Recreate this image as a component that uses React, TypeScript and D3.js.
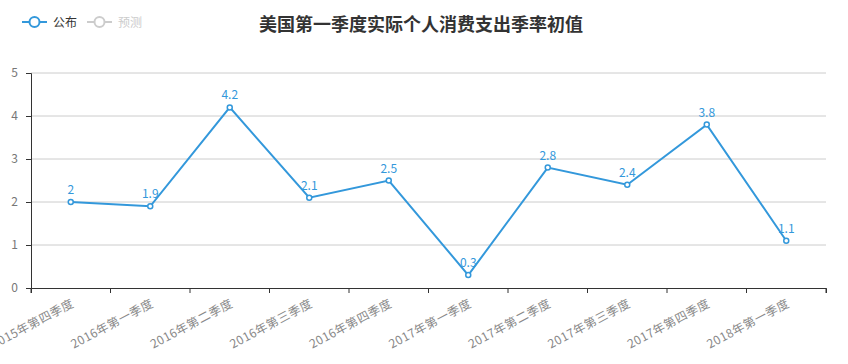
import * as d3 from 'd3'
import { useEffect, useRef } from 'react'

const categories = [
    '2015年第四季度', '2016年第一季度', '2016年第二季度', '2016年第三季度', '2016年第四季度',
    '2017年第一季度', '2017年第二季度', '2017年第三季度', '2017年第四季度', '2018年第一季度',
]
const published = [2, 1.9, 4.2, 2.1, 2.5, 0.3, 2.8, 2.4, 3.8, 1.1]
const yTicks = [0, 1, 2, 3, 4, 5]
const legendItems = [
    { name: '公布', active: true },
    { name: '预测', active: false },
]
const title = '美国第一季度实际个人消费支出季率初值'

export default function App() {
    const svgRef = useRef<SVGSVGElement>(null)

    useEffect(() => {
        makeChart(svgRef)
    }, [])

    function makeChart(svgRef: React.RefObject<SVGSVGElement>) {
        const width = 848
        const height = 364
        const font = "'Microsoft YaHei', 'Noto Sans CJK SC', sans-serif"
        const blue = '#3398DB'

        const svg = d3.select(svgRef.current).attr('width', width).attr('height', height)
        svg.selectAll('*').remove()

        const x = d3.scaleBand().domain(categories).range([31, 826])
        const y = d3.scaleLinear().domain([0, 5]).range([288, 73])

        // grid
        svg.append('g')
            .selectAll('line')
            .data(yTicks.slice(1))
            .enter()
            .append('line')
            .attr('x1', 31).attr('x2', 826)
            .attr('y1', d => y(d)).attr('y2', d => y(d))
            .attr('stroke', '#ccc')

        // y axis
        const yAxis = svg.append('g')
            .attr('transform', 'translate(31,0)')
            .call(d3.axisLeft(y).tickValues(yTicks).tickSize(5).tickPadding(8).tickFormat(d3.format('d')))
        yAxis.select('.domain').attr('stroke', '#333')
        yAxis.selectAll('.tick line').attr('stroke', '#333')
        yAxis.selectAll('text').attr('fill', '#777').style('font-size', '12px').style('font-family', font)

        // x axis
        const xAxis = svg.append('g')
            .attr('transform', 'translate(0,288)')
            .call(d3.axisBottom(x).tickSizeOuter(0).tickSize(5).tickFormat(() => ''))
        xAxis.select('.domain').attr('stroke', '#333')
        xAxis.selectAll('.tick').remove()
        const bounds = [...categories.map(c => x(c)!), 826]
        xAxis.selectAll('line.b')
            .data(bounds)
            .enter()
            .append('line')
            .attr('x1', d => d).attr('x2', d => d)
            .attr('y1', 0).attr('y2', 5)
            .attr('stroke', '#333')
        xAxis.selectAll('text.lab')
            .data(categories)
            .enter()
            .append('text')
            .attr('transform', d => `translate(${x(d)! + x.bandwidth() / 2 + 4},${18}) rotate(-28)`)
            .attr('text-anchor', 'end')
            .attr('fill', '#888')
            .style('font-size', '12px')
            .style('letter-spacing', '0.5px')
            .style('font-family', font)
            .text(d => d)

        // line
        const line = d3.line<number>()
            .x((_, i) => x(categories[i])! + x.bandwidth() / 2)
            .y(d => y(d))
        svg.append('path')
            .datum(published)
            .attr('d', line)
            .attr('fill', 'none')
            .attr('stroke', blue)
            .attr('stroke-width', 2)

        svg.append('g')
            .selectAll('circle')
            .data(published)
            .enter()
            .append('circle')
            .attr('cx', (_, i) => x(categories[i])! + x.bandwidth() / 2)
            .attr('cy', d => y(d))
            .attr('r', 2.5)
            .attr('fill', '#fff')
            .attr('stroke', blue)
            .attr('stroke-width', 1.5)

        svg.append('g')
            .selectAll('text')
            .data(published)
            .enter()
            .append('text')
            .attr('x', (_, i) => x(categories[i])! + x.bandwidth() / 2)
            .attr('y', d => y(d) - 8)
            .attr('text-anchor', 'middle')
            .attr('fill', blue)
            .style('font-size', '12px')
            .style('font-family', font)
            .text(d => d)

        // title
        svg.append('text')
            .attr('x', 421).attr('y', 31)
            .attr('text-anchor', 'middle')
            .attr('fill', '#333')
            .style('font-size', '18px')
            .style('font-weight', 'bold')
            .style('font-family', font)
            .text(title)

        // legend
        const legend = svg.append('g')
            .selectAll('g')
            .data(legendItems)
            .enter()
            .append('g')
            .attr('transform', (_, i) => `translate(${22 + i * 65},22)`)
        legend.append('line')
            .attr('x1', 0).attr('x2', 25)
            .attr('stroke', d => d.active ? blue : '#ccc')
            .attr('stroke-width', 2)
        legend.append('circle')
            .attr('cx', 12.5).attr('r', 5)
            .attr('fill', '#fff')
            .attr('stroke', d => d.active ? blue : '#ccc')
            .attr('stroke-width', 2)
        legend.append('text')
            .attr('x', 31).attr('y', 4.5)
            .attr('fill', d => d.active ? '#333' : '#ccc')
            .style('font-size', '12px')
            .style('font-family', font)
            .text(d => d.name)
    }

    return (
        <svg ref={svgRef} style={{ position: 'absolute', left: 0, top: 0 }}></svg>
    )
}
